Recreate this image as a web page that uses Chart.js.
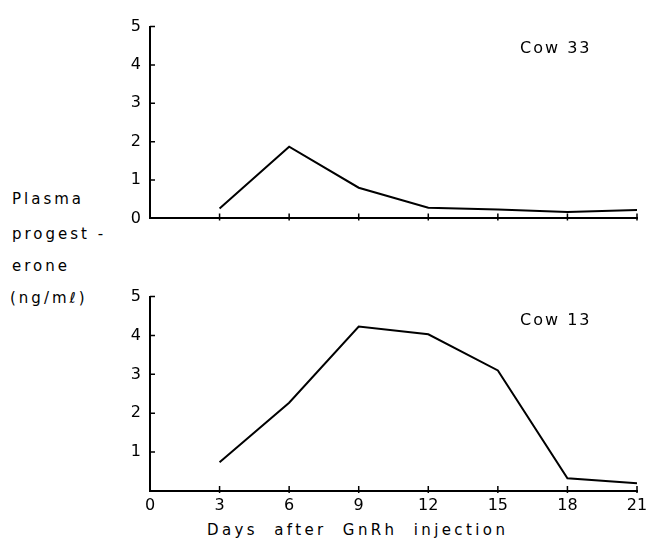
<!DOCTYPE html>
<html>
<head>
<meta charset="utf-8">
<script src="https://cdn.jsdelivr.net/npm/chart.js@4"></script>
<style>
  body { margin: 0; background: #fff; }
  #wrap { position: relative; width: 672px; height: 539px; background: #fff; font-family: "DejaVu Sans", sans-serif; color: #000; }
  canvas { position: absolute; }
  .lbl { position: absolute; font-size: 15px; letter-spacing: 3px; white-space: nowrap; line-height: 16px; }
</style>
</head>
<body>
<div id="wrap">
  <canvas id="top" width="550" height="229" style="left:110px; top:8px;"></canvas>
  <canvas id="bottom" width="550" height="237" style="left:110px; top:278px;"></canvas>
  <div class="lbl" style="left:12px; top:191px;">Plasma</div>
  <div class="lbl" style="left:12px; top:226px;">progest -</div>
  <div class="lbl" style="left:12px; top:258px;">erone</div>
  <div class="lbl" style="left:10px; top:290px; word-spacing:2px;">(ng/mℓ)</div>
  <div class="lbl" style="left:520px; top:40px; font-size:16px; letter-spacing:2px;">Cow 33</div>
  <div class="lbl" style="left:520px; top:312px; font-size:16px; letter-spacing:2px;">Cow 13</div>
  <div class="lbl" style="left:207px; top:522px; letter-spacing:3.4px; word-spacing:8px;">Days after GnRh injection</div>
</div>
<script>
// days after injection
const days = [3, 6, 9, 12, 15, 18, 21];
// plasma progesterone, ng/ml
const cow33 = [0.26, 1.87, 0.8, 0.28, 0.23, 0.17, 0.22];
const cow13 = [0.74, 2.27, 4.23, 4.03, 3.1, 0.33, 0.2];
const dayTicks = [0, 3, 6, 9, 12, 15, 18, 21];
const levelTicks = [0, 1, 2, 3, 4, 5];

// small tick marks pointing into the plot, like the printed figure
const inwardTicks = {
    id: 'inwardTicks',
    afterDatasetsDraw(chart) {
        const {ctx, chartArea, scales: {x, y}} = chart;
        ctx.save();
        ctx.strokeStyle = '#000';
        ctx.lineWidth = 1.5;
        ctx.beginPath();
        x.ticks.forEach(t => {
            if (t.value === 0) return;
            const px = x.getPixelForValue(t.value);
            ctx.moveTo(px, chartArea.bottom + 2);
            ctx.lineTo(px, chartArea.bottom - 5);
        });
        y.ticks.forEach(t => {
            if (t.value === 0) return;
            const py = y.getPixelForValue(t.value);
            ctx.moveTo(chartArea.left, py);
            ctx.lineTo(chartArea.left + 5, py);
        });
        ctx.stroke();
        ctx.restore();
    }
};

function makeChart(id, values, showDays) {
    return new Chart(id, {
        type: 'line',
        data: {
            datasets: [{
                data: days.map((d, i) => ({x: d, y: values[i]})),
                borderColor: '#000',
                borderWidth: 2,
                pointRadius: 0,
                tension: 0,
                fill: false,
            }]
        },
        options: {
            responsive: false,
            animation: false,
            devicePixelRatio: 1,
            layout: {padding: {top: 12, right: 23, bottom: 0, left: 0}},
            plugins: {legend: {display: false}, tooltip: {enabled: false}},
            scales: {
                x: {
                    type: 'linear',
                    min: 0, max: 21,
                    afterBuildTicks: s => { s.ticks = dayTicks.map(v => ({value: v})); },
                    afterFit: s => { s.height = showDays ? 24 : 2; },
                    grid: {drawOnChartArea: false, drawTicks: false},
                    border: {display: true, color: '#000', width: 2},
                    ticks: {display: showDays, color: '#000', padding: 5,
                             font: {family: 'DejaVu Sans', size: 16}},
                },
                y: {
                    min: 0, max: 5,
                    afterBuildTicks: s => { s.ticks = levelTicks.map(v => ({value: v})); },
                    afterFit: s => { s.width = 40; },
                    grid: {drawOnChartArea: false, drawTicks: false},
                    border: {display: true, color: '#000', width: 2},
                    ticks: {color: '#000', padding: 9,
                            font: {family: 'DejaVu Sans', size: 16},
                            callback: v => (showDays && v === 0) ? '' : v},
                }
            }
        },
        plugins: [inwardTicks]
    });
}

makeChart('top', cow33, false);
makeChart('bottom', cow13, true);
</script>
</body>
</html>
